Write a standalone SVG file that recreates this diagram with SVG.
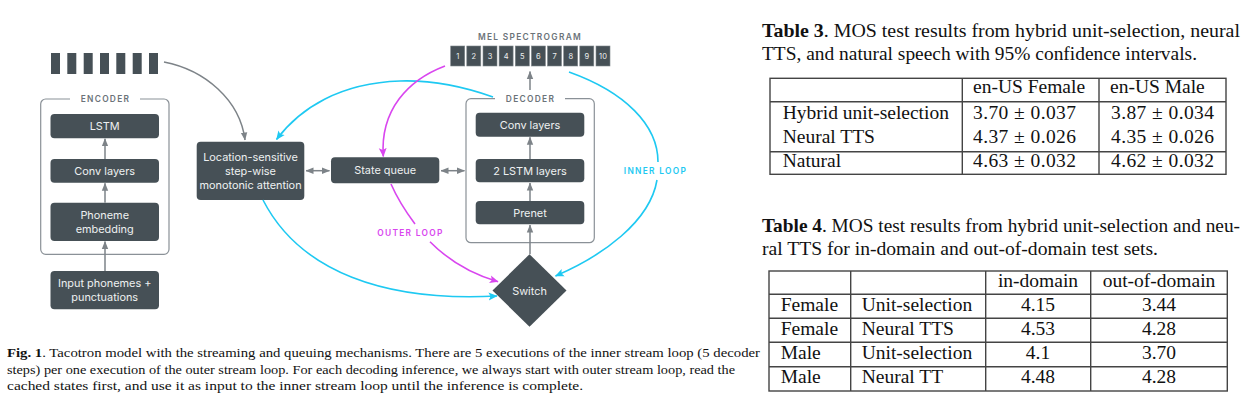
<svg xmlns="http://www.w3.org/2000/svg" width="1258" height="409" viewBox="0 0 1258 409">
<style>
.box{fill:#465056;}
.cont{fill:none;stroke:#8a9197;stroke-width:1.2;}
.bt{font-family:Inter,"Open Sans",sans-serif;font-size:10.9px;fill:#eef0f1;text-anchor:middle;}
.lab{font-family:Inter,"Open Sans",sans-serif;font-size:8.4px;font-weight:600;letter-spacing:1.3px;fill:#6b7379;text-anchor:middle;}
.num{font-family:Inter,"Open Sans",sans-serif;font-size:7.5px;fill:#eef0f1;text-anchor:middle;}
.g{fill:none;stroke:#7d8388;stroke-width:1.5;}
.c{fill:none;stroke:#1ec9f2;stroke-width:1.6;}
.m{fill:none;stroke:#d946ef;stroke-width:1.6;}
.serif{font-family:"Liberation Serif","Times New Roman",serif;fill:#111;}
.cap{font-size:13.4px;}
.tcap{font-size:17.8px;}
.tt{font-size:19.5px;}
.tl{fill:none;stroke:#444;stroke-width:1.4;}
</style>
<defs>
<marker id="ag" viewBox="0 0 8 8" refX="7.5" refY="4" markerWidth="8" markerHeight="8" markerUnits="userSpaceOnUse" orient="auto-start-reverse"><path d="M0,0.8 L8,4 L0,7.2 z" fill="#7d8388"/></marker>
<marker id="ac" viewBox="0 0 8 8" refX="7.5" refY="4" markerWidth="9" markerHeight="9" markerUnits="userSpaceOnUse" orient="auto"><path d="M0,0.5 L8,4 L0,7.5 L1.8,4 z" fill="#1ec9f2"/></marker>
<marker id="am" viewBox="0 0 8 8" refX="7.5" refY="4" markerWidth="9" markerHeight="9" markerUnits="userSpaceOnUse" orient="auto"><path d="M0,0.5 L8,4 L0,7.5 L1.8,4 z" fill="#d946ef"/></marker>
</defs>
<rect width="1258" height="409" fill="#fff"/>

<g id="input-bars">
<rect class="box" x="51" y="53" width="9" height="21"/>
<rect class="box" x="67.3" y="53" width="9" height="21"/>
<rect class="box" x="83.7" y="53" width="9" height="21"/>
<rect class="box" x="100" y="53" width="9" height="21"/>
<rect class="box" x="116.3" y="53" width="9" height="21"/>
<rect class="box" x="132.7" y="53" width="9" height="21"/>
<rect class="box" x="149" y="53" width="9" height="21"/>
</g>

<g id="encoder">
<rect class="cont" x="40.7" y="99" width="128.3" height="155.3" rx="5"/>
<rect x="70" y="93" width="70" height="12" fill="#fff"/>
<text class="lab" x="105.5" y="101.5">ENCODER</text>
</g>
<g id="lstm"><rect class="box" x="50.5" y="114" width="108.5" height="24.3" rx="4"/><text class="bt" x="104.7" y="130">LSTM</text></g>
<g id="enc-conv"><rect class="box" x="50.5" y="159" width="108.5" height="23.7" rx="4"/><text class="bt" x="104.7" y="174.8">Conv layers</text></g>
<g id="phoneme-embedding"><rect class="box" x="50.5" y="202.7" width="108.5" height="38.3" rx="4"/><text class="bt" x="104.7" y="219">Phoneme</text><text class="bt" x="104.7" y="233">embedding</text></g>
<g id="input-phonemes"><rect class="box" x="50.5" y="271" width="108.5" height="38.3" rx="4"/><text class="bt" x="104.7" y="287.3">Input phonemes +</text><text class="bt" x="104.7" y="301.3">punctuations</text></g>

<g id="attention"><rect class="box" x="196.7" y="141.7" width="107.6" height="58.3" rx="4"/><text class="bt" x="250.5" y="161">Location-sensitive</text><text class="bt" x="250.5" y="175">step-wise</text><text class="bt" x="250.5" y="189">monotonic attention</text></g>
<g id="state-queue"><rect class="box" x="331" y="157.3" width="108.3" height="26" rx="4"/><text class="bt" x="385.2" y="174.3">State queue</text></g>

<g id="decoder">
<rect class="cont" x="466" y="98.7" width="128.3" height="144" rx="5"/>
<rect x="495" y="92" width="70" height="12" fill="#fff"/>
<text class="lab" x="530.5" y="101.5">DECODER</text>
</g>
<g id="dec-conv"><rect class="box" x="475.7" y="112.7" width="108.6" height="24" rx="4"/><text class="bt" x="530" y="128.7">Conv layers</text></g>
<g id="lstm2"><rect class="box" x="475.7" y="159" width="108.6" height="23.3" rx="4"/><text class="bt" x="530" y="174.7">2 LSTM layers</text></g>
<g id="prenet"><rect class="box" x="475.7" y="201" width="108.6" height="23.3" rx="4"/><text class="bt" x="530" y="216.7">Prenet</text></g>
<g id="switch"><path class="box" d="M529.5,254.3 L566.5,290.5 L529.5,326.7 L492.5,290.5 z"/><text class="bt" x="529.5" y="294.5">Switch</text></g>

<g id="mel-spectrogram">
<text class="lab" x="530" y="40.3">MEL SPECTROGRAM</text>
<g stroke="#7e858a" stroke-width="0.6">
<rect class="box" x="450.7" y="46" width="14" height="20"/>
<rect class="box" x="466.8" y="46" width="14" height="20"/>
<rect class="box" x="483" y="46" width="14" height="20"/>
<rect class="box" x="499.1" y="46" width="14" height="20"/>
<rect class="box" x="515.3" y="46" width="14" height="20"/>
<rect class="box" x="531.4" y="46" width="14" height="20"/>
<rect class="box" x="547.5" y="46" width="14" height="20"/>
<rect class="box" x="563.7" y="46" width="14" height="20"/>
<rect class="box" x="579.8" y="46" width="14" height="20"/>
<rect class="box" x="596" y="46" width="14" height="20"/>
</g>
<text class="num" x="457.7" y="58.8">1</text>
<text class="num" x="473.8" y="58.8">2</text>
<text class="num" x="490" y="58.8">3</text>
<text class="num" x="506.1" y="58.8">4</text>
<text class="num" x="522.3" y="58.8">5</text>
<text class="num" x="538.4" y="58.8">6</text>
<text class="num" x="554.5" y="58.8">7</text>
<text class="num" x="570.7" y="58.8">8</text>
<text class="num" x="586.8" y="58.8">9</text>
<text class="num" x="603" y="58.8">10</text>
</g>

<g id="connectors">
<path class="g" d="M164,62 C205,70 240,100 245,140" marker-end="url(#ag)"/>
<path class="g" d="M105,271 L105,241.5" marker-end="url(#ag)"/>
<path class="g" d="M105,202.7 L105,183.2" marker-end="url(#ag)"/>
<path class="g" d="M105,159 L105,138.8" marker-end="url(#ag)"/>
<path class="g" d="M306,170.7 L329.5,170.7" marker-start="url(#ag)" marker-end="url(#ag)"/>
<path class="g" d="M441,170.7 L464.5,170.7" marker-start="url(#ag)" marker-end="url(#ag)"/>
<path class="g" d="M530,201 L530,183" marker-end="url(#ag)"/>
<path class="g" d="M530,159 L530,137.3" marker-end="url(#ag)"/>
<path class="g" d="M530,254.3 L530,225" marker-end="url(#ag)"/>
<path class="g" d="M530,90 L530,71.5" marker-end="url(#ag)"/>
<path class="c" d="M493,97 C462,86 432,80 400,81 C340,83 300,108 276.5,139.5" marker-end="url(#ac)"/>
<path class="c" d="M263,200 C300,272 385,302 497,296" marker-end="url(#ac)"/>
<path class="c" d="M569,72 C625,92 658,125 658,162"/>
<path class="c" d="M657,180 C650,222 602,256 555.5,276" marker-end="url(#ac)"/>
<path class="m" d="M445,66 C408,80 380,110 383.3,156.5" marker-end="url(#am)"/>
<path class="m" d="M391,184 C398,200 406,212 415,224"/>
<path class="m" d="M430,241.7 C450,262 475,275 498,281.7" marker-end="url(#am)"/>
<text class="lab" x="655.5" y="174" style="fill:#1ec9f2">INNER LOOP</text>
<text class="lab" x="410.5" y="235.8" style="fill:#d946ef">OUTER LOOP</text>
</g>

<g id="caption" class="serif cap">
<text x="7" y="357" textLength="753" lengthAdjust="spacingAndGlyphs"><tspan font-weight="bold">Fig. 1</tspan>. Tacotron model with the streaming and queuing mechanisms. There are 5 executions of the inner stream loop (5 decoder</text>
<text x="7" y="373.5" textLength="728" lengthAdjust="spacingAndGlyphs">steps) per one execution of the outer stream loop. For each decoding inference, we always start with outer stream loop, read the</text>
<text x="7" y="390" textLength="576" lengthAdjust="spacingAndGlyphs">cached states first, and use it as input to the inner stream loop until the inference is complete.</text>
</g>

<g id="table3" class="serif">
<text class="tcap" x="762" y="36.7" textLength="478" lengthAdjust="spacingAndGlyphs"><tspan font-weight="bold">Table 3</tspan>. MOS test results from hybrid unit-selection, neural</text>
<text class="tcap" x="762" y="60" textLength="435" lengthAdjust="spacingAndGlyphs">TTS, and natural speech with 95% confidence intervals.</text>
<rect class="tl" x="770" y="78.3" width="456" height="96"/>
<path class="tl" d="M770,101.7 H1226 M770,151.7 H1226 M962.3,78.3 V174.3 M1099,78.3 V174.3"/>
<g class="tt">
<text x="973" y="93.3">en-US Female</text>
<text x="1110" y="93.3">en-US Male</text>
<text x="782.7" y="119.3">Hybrid unit-selection</text>
<text x="973" y="119.3" textLength="103" lengthAdjust="spacing">3.70 ± 0.037</text>
<text x="1111" y="119.3" textLength="103" lengthAdjust="spacing">3.87 ± 0.034</text>
<text x="782.7" y="142.7">Neural TTS</text>
<text x="973" y="142.7" textLength="103" lengthAdjust="spacing">4.37 ± 0.026</text>
<text x="1111" y="142.7" textLength="103" lengthAdjust="spacing">4.35 ± 0.026</text>
<text x="782.7" y="167.3">Natural</text>
<text x="973" y="167.3" textLength="103" lengthAdjust="spacing">4.63 ± 0.032</text>
<text x="1111" y="167.3" textLength="103" lengthAdjust="spacing">4.62 ± 0.032</text>
</g>
</g>

<g id="table4" class="serif">
<text class="tcap" x="762" y="231.7" textLength="478" lengthAdjust="spacingAndGlyphs"><tspan font-weight="bold">Table 4</tspan>. MOS test results from hybrid unit-selection and neu-</text>
<text class="tcap" x="762" y="255" textLength="396" lengthAdjust="spacingAndGlyphs">ral TTS for in-domain and out-of-domain test sets.</text>
<rect class="tl" x="769" y="271" width="458.3" height="120"/>
<path class="tl" d="M769,294.3 H1227.3 M769,318.3 H1227.3 M769,342.3 H1227.3 M769,366.7 H1227.3 M850.7,271 V391 M985.7,271 V391 M1090.7,271 V391"/>
<g class="tt">
<text x="1038" y="286.7" text-anchor="middle">in-domain</text>
<text x="1159" y="286.7" text-anchor="middle">out-of-domain</text>
<text x="780.7" y="311">Female</text><text x="861.7" y="311">Unit-selection</text><text x="1038" y="311" text-anchor="middle">4.15</text><text x="1159" y="311" text-anchor="middle">3.44</text>
<text x="780.7" y="335">Female</text><text x="861.7" y="335">Neural TTS</text><text x="1038" y="335" text-anchor="middle">4.53</text><text x="1159" y="335" text-anchor="middle">4.28</text>
<text x="780.7" y="359">Male</text><text x="861.7" y="359">Unit-selection</text><text x="1038" y="359" text-anchor="middle">4.1</text><text x="1159" y="359" text-anchor="middle">3.70</text>
<text x="780.7" y="383.3">Male</text><text x="861.7" y="383.3">Neural TT</text><text x="1038" y="383.3" text-anchor="middle">4.48</text><text x="1159" y="383.3" text-anchor="middle">4.28</text>
</g>
</g>
</svg>
